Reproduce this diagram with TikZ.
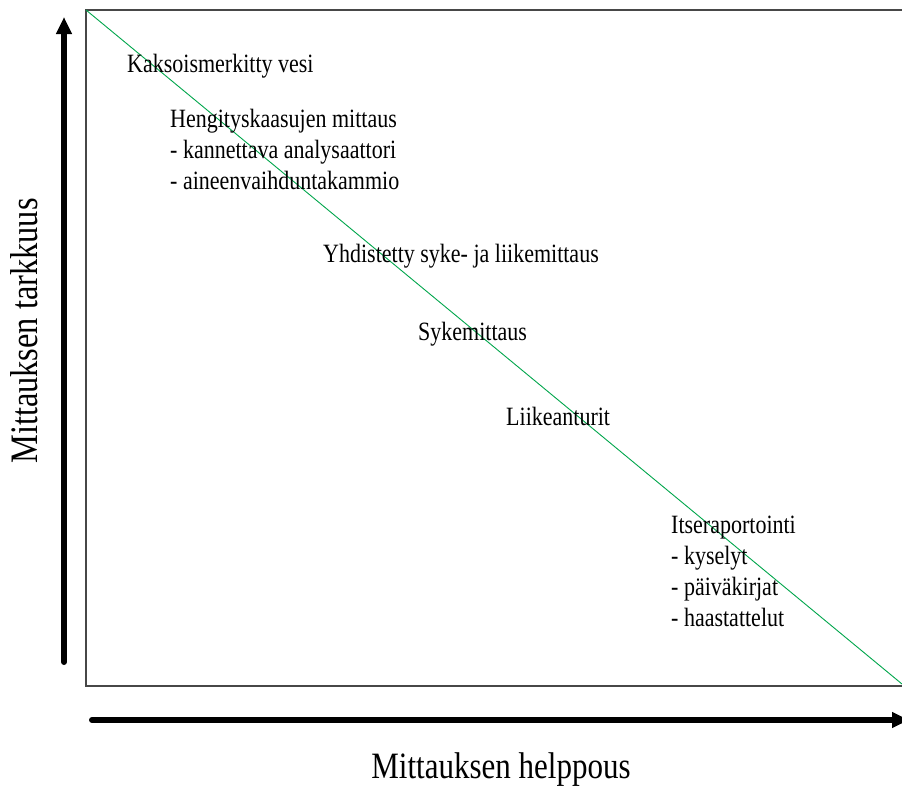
\documentclass[tikz,border=0pt]{standalone}
\usepackage{fontspec}
\setmainfont{Liberation Serif}
\usetikzlibrary{arrows.meta}
\newcommand{\tallbox}[1]{\scalebox{1}[1.2]{#1}}
\newcommand{\lbl}[1]{\tallbox{\begin{tabular}[t]{@{}l@{}}#1\end{tabular}}}
\begin{document}
\begin{tikzpicture}[x=1pt,y=-1pt,
  txt/.style={anchor=base west,inner sep=0pt,font=\fontsize{22}{26}\selectfont},
  axlabel/.style={anchor=base,inner sep=0pt,font=\fontsize{31}{36}\selectfont},
  axarrow/.style={line width=6pt,line cap=round,-{Triangle[width=15pt,length=17pt]}},
  frame/.style={draw=black!72,line width=1.3pt},
  diag/.style={draw=green!50!black!70!cyan,line width=0.9pt}]
\useasboundingbox (0,0) rectangle (902,788);
\fill[white] (0,0) rectangle (902,788);
% frame and diagonal
\coordinate (tl) at (86,10);
\coordinate (br) at (904,686);
\coordinate (dend) at (902,684);
\draw[frame] (tl) rectangle (br);
\draw[diag] (tl) -- (dend);
% axes arrows
\coordinate (va) at (64,662);
\coordinate (vb) at (64,17);
\coordinate (ha) at (92,720);
\coordinate (hb) at (909,720);
\draw[axarrow] (va) -- (vb);
\draw[axarrow] (ha) -- (hb);
% axis labels
\node[axlabel] (xl) at (501,778) {\tallbox{Mittauksen helppous}};
\node[axlabel,rotate=90,font=\fontsize{32.4}{38}\selectfont] (yl) at (37,331) {\tallbox{Mittauksen tarkkuus}};
% texts
\node[txt] (t1) at (127,72) {\lbl{Kaksoismerkitty vesi}};
\node[txt] (t2) at (170,127) {\lbl{Hengityskaasujen mittaus\\- kannettava analysaattori\\- aineenvaihduntakammio}};
\node[txt] (t3) at (323,262) {\lbl{Yhdistetty syke- ja liikemittaus}};
\node[txt] (t4) at (418,340) {\lbl{Sykemittaus}};
\node[txt] (t5) at (506,425) {\lbl{Liikeanturit}};
\node[txt] (t6) at (671,533) {\lbl{Itseraportointi\\- kyselyt\\- päiväkirjat\\- haastattelut}};
\end{tikzpicture}
\end{document}
